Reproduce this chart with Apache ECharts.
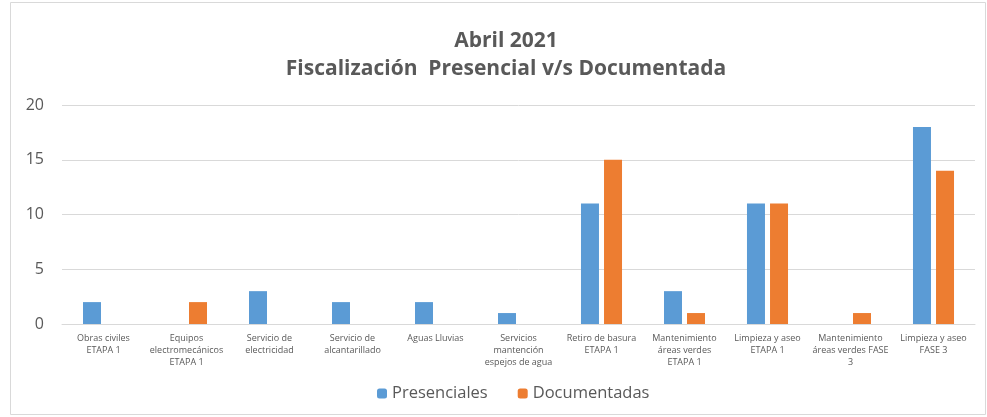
<!DOCTYPE html>
<html>
<head>
<meta charset="utf-8">
<title>Abril 2021</title>
<script src="https://cdn.jsdelivr.net/npm/echarts@6/dist/echarts.min.js"></script>
<style>
  html, body { margin: 0; padding: 0; background: #fff; }
  #main { width: 987px; height: 417px; }
</style>
</head>
<body>
<div id="main"></div>
<script>
var categories = [
    'Obras civiles\nETAPA 1',
    'Equipos\nelectromecánicos\nETAPA 1',
    'Servicio de\nelectricidad',
    'Servicio de\nalcantarillado',
    'Aguas Lluvias',
    'Servicios\nmantención\nespejos de agua',
    'Retiro de basura\nETAPA 1',
    'Mantenimiento\náreas verdes\nETAPA 1',
    'Limpieza y aseo\nETAPA 1',
    'Mantenimiento\náreas verdes FASE\n3',
    'Limpieza y aseo\nFASE 3'
];
var presenciales = [2, 0, 3, 2, 2, 1, 11, 3, 11, 0, 18];
var documentadas = [0, 2, 0, 0, 0, 0, 15, 1, 11, 1, 14];

var txt = '#595959';
var chart = echarts.init(document.getElementById('main'));
chart.setOption({
    animation: false,
    textStyle: { fontFamily: 'Open Sans' },
    title: {
        text: 'Abril 2021\nFiscalización  Presencial v/s Documentada',
        left: 501,
        textAlign: 'center',
        top: 22,
        textStyle: { fontSize: 21, fontWeight: 'bold', color: txt, lineHeight: 28, fontFamily: 'Open Sans' }
    },
    graphic: [{
        type: 'rect',
        shape: { x: 10.5, y: 2.5, width: 975, height: 412 },
        style: { fill: 'none', stroke: '#d9d9d9', lineWidth: 1 }
    }],
    legend: {
        bottom: 10,
        left: 372,
        itemWidth: 10,
        itemHeight: 10,
        itemGap: 30,
        textStyle: { fontSize: 16.5, color: txt },
        data: ['Presenciales', 'Documentadas']
    },
    grid: { left: 62, right: 12, top: 105, bottom: 93 },
    xAxis: {
        type: 'category',
        data: categories,
        axisTick: { show: false },
        axisLine: { lineStyle: { color: '#d9d9d9' } },
        axisLabel: { interval: 0, fontSize: 9, color: txt, lineHeight: 12, margin: 8 }
    },
    yAxis: {
        type: 'value',
        min: 0,
        max: 20,
        interval: 5,
        axisLabel: { fontSize: 16, color: txt, margin: 18 },
        splitLine: { lineStyle: { color: '#d9d9d9' } }
    },
    series: [
        { name: 'Presenciales', type: 'bar', data: presenciales, barWidth: 18, barGap: '28%', itemStyle: { color: '#5B9BD5' } },
        { name: 'Documentadas', type: 'bar', data: documentadas, barWidth: 18, itemStyle: { color: '#ED7D31' } }
    ]
});
</script>
</body>
</html>
